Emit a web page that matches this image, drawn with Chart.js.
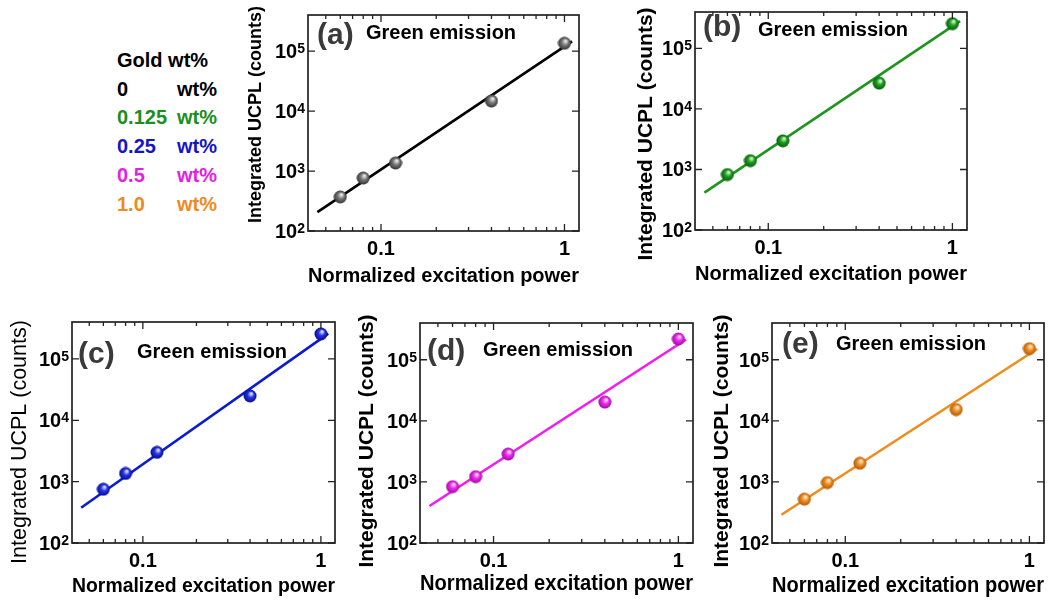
<!DOCTYPE html>
<html>
<head>
<meta charset="utf-8">
<script src="https://cdn.jsdelivr.net/npm/chart.js@4.4.1/dist/chart.umd.min.js"></script>
<style>
  body { margin: 0; background: #fff; }
  #page { position: relative; width: 1052px; height: 604px; overflow: hidden; background: #fff; }
  #page canvas { position: absolute; }
  #legend { position: absolute; left: 117px; top: 46px; font: bold 20px "Liberation Sans", Arial, sans-serif; line-height: 28.7px; }
  #legend .num { display: inline-block; width: 60px; }
</style>
</head>
<body>
<div id="page">
  <div id="legend"></div>
</div>
<script>
// excitation power (normalized) for every sample
const power = [0.06, 0.08, 0.12, 0.4, 1];

// integrated UCPL counts
const countsA = [370, 765, 1360, 14700, 135000];
const countsB = [826, 1400, 2970, 26700, 257000];
const countsC = [750, 1360, 3000, 25000, 256000];
const countsD = [837, 1220, 2860, 20300, 219000];
const countsE = [522, 975, 2020, 15300, 152000];

// fitted lines, start and end points
const fitX = [0.045, 1.1];
const fitA = [207, 145000];
const fitB = [414, 283000];
const fitC = [376, 258000];
const fitD = [403, 215000];
const fitE = [290, 150000];

// axes
const xTicks = [0.05, 0.06, 0.07, 0.08, 0.09, 0.1, 0.2, 0.3, 0.4, 0.5, 0.6, 0.7, 0.8, 0.9, 1];
const xMajor = [0.1, 1];
const xMajorText = ['0.1', '1'];
const yTicks = [100, 1000, 10000, 100000];
const yTickBase = '10';
const yTickExp = ['2', '3', '4', '5'];

// legend
const goldLevels = ['0', '0.125', '0.25', '0.5', '1.0'];
const goldColors = ['#000000', '#1b8f1b', '#1414c8', '#e41ee4', '#ef8a22'];

const FONT = '"Liberation Sans", Arial, sans-serif';

const legend = document.getElementById('legend');
let html = '<div>Gold wt%</div>';
goldLevels.forEach((g, i) => {
  html += '<div style="color:' + goldColors[i] + '"><span class="num">' + g + '</span>wt%</div>';
});
legend.innerHTML = html;

function ball(c) {
  const s = 14;
  const cv = document.createElement('canvas');
  cv.width = cv.height = s;
  const g = cv.getContext('2d');
  const r = s / 2 - 0.5;
  const grad = g.createRadialGradient(s * 0.6, s * 0.32, 0.5, s / 2, s / 2, r);
  grad.addColorStop(0, c[0]);
  grad.addColorStop(0.45, c[1]);
  grad.addColorStop(1, c[2]);
  g.fillStyle = grad;
  g.beginPath();
  g.arc(s / 2, s / 2, r, 0, Math.PI * 2);
  g.fill();
  return cv;
}

const framePlugin = {
  id: 'frame',
  afterDatasetsDraw(chart, args, opts) {
    const { ctx, chartArea: a, scales: { x, y } } = chart;
    ctx.save();
    ctx.strokeStyle = '#222';
    ctx.lineWidth = 1.3;
    ctx.beginPath();
    x.ticks.forEach(t => {
      const px = x.getPixelForValue(t.value);
      const len = xMajor.includes(t.value) ? 7 : 4;
      ctx.moveTo(px, a.bottom); ctx.lineTo(px, a.bottom - len);
      ctx.moveTo(px, a.top); ctx.lineTo(px, a.top + len);
    });
    y.ticks.forEach(t => {
      const py = y.getPixelForValue(t.value);
      ctx.moveTo(a.left, py); ctx.lineTo(a.left + 7, py);
      ctx.moveTo(a.right, py); ctx.lineTo(a.right - 7, py);
    });
    ctx.stroke();
    ctx.lineWidth = 1.7;
    ctx.strokeRect(a.left, a.top, a.right - a.left, a.bottom - a.top);

    // y tick labels with raised exponent
    ctx.fillStyle = '#000';
    ctx.textAlign = 'left';
    ctx.textBaseline = 'alphabetic';
    y.ticks.forEach(t => {
      const i = yTicks.indexOf(t.value);
      if (i < 0) return;
      const py = y.getPixelForValue(t.value);
      ctx.font = 'bold 14px ' + FONT;
      const ew = ctx.measureText(yTickExp[i]).width;
      ctx.font = 'bold 20px ' + FONT;
      const bw = ctx.measureText(yTickBase).width;
      const xr = a.left - 3;
      ctx.fillText(yTickBase, xr - ew - bw, py + 7);
      ctx.font = 'bold 14px ' + FONT;
      ctx.fillText(yTickExp[i], xr - ew, py + 2);
    });

    // y title
    ctx.save();
    ctx.translate(a.left + opts.yTitle[0], a.top + opts.yTitle[1]);
    ctx.rotate(-Math.PI / 2);
    ctx.textAlign = 'center';
    ctx.textBaseline = 'middle';
    ctx.font = opts.yFont;
    ctx.fillText('Integrated UCPL (counts)', 0, 0);
    ctx.restore();

    // panel tag and caption
    ctx.textBaseline = 'middle';
    ctx.textAlign = 'left';
    ctx.fillStyle = '#3a3a3a';
    ctx.font = 'bold 30px ' + FONT;
    ctx.fillText(opts.tag, a.left + opts.tagPos[0], a.top + opts.tagPos[1]);
    ctx.fillStyle = '#000';
    ctx.font = 'bold 20px ' + FONT;
    ctx.fillText('Green emission', a.left + opts.textPos[0], a.top + opts.textPos[1]);
    ctx.restore();
  }
};

const panels = [
  { tag: '(a)', counts: countsA, fit: fitA, color: '#000000', ball: ['#f0f0f0', '#7a7a7a', '#333333'],
    L: 308, R: 579, T: 15, B: 231, yTitleX: 256, yTitleY: 114.5, ySize: 18, yWeight: 'bold',
    xTitleY: 276, xSize: 21, tagPos: [9, 21], textPos: [58, 18] },
  { tag: '(b)', counts: countsB, fit: fitB, color: '#1c961c', ball: ['#dcffdc', '#1f9f1f', '#0a5c0a'],
    L: 695, R: 967, T: 12, B: 230, yTitleX: 646, yTitleY: 134, ySize: 21, yWeight: 'bold',
    xTitleY: 275, xSize: 20.5, tagPos: [8, 16], textPos: [63, 18] },
  { tag: '(c)', counts: countsC, fit: fitC, color: '#0b1bd0', ball: ['#e4eaff', '#2234e6', '#0a0a8c'],
    L: 72, R: 335, T: 322, B: 543, yTitleX: 20, yTitleY: 442, ySize: 21.5, yWeight: 'normal',
    xTitleY: 587, xSize: 20.6, tagPos: [6, 33], textPos: [65, 30] },
  { tag: '(d)', counts: countsD, fit: fitD, color: '#f01cf0', ball: ['#ffe4ff', '#f02af0', '#9c0c9c'],
    L: 420, R: 693, T: 323, B: 543, yTitleX: 367, yTitleY: 441, ySize: 21, yWeight: 'bold',
    xTitleY: 584, xSize: 21.3, tagPos: [7, 29], textPos: [63, 27] },
  { tag: '(e)', counts: countsE, fit: fitE, color: '#f08c1e', ball: ['#fff2dc', '#f28e22', '#b05a08'],
    L: 772, R: 1044, T: 323, B: 543, yTitleX: 722, yTitleY: 441, ySize: 21, yWeight: 'bold',
    xTitleY: 586, xSize: 21.5, tagPos: [10, 22], textPos: [64, 21] }
];

const page = document.getElementById('page');

panels.forEach(p => {
  const padTop = 22, padRight = 8;
  const left = Math.round(p.yTitleX - 16);
  const top = p.T - padTop;
  const right = p.R + padRight;
  const bottom = Math.round(p.xTitleY + 0.6 * p.xSize);
  const yWidth = p.L - left;
  const xHeight = bottom - p.B;

  const cv = document.createElement('canvas');
  cv.width = right - left;
  cv.height = bottom - top;
  cv.style.left = left + 'px';
  cv.style.top = top + 'px';
  page.appendChild(cv);

  new Chart(cv.getContext('2d'), {
    type: 'scatter',
    data: {
      datasets: [
        {
          data: power.map((v, i) => ({ x: v, y: p.counts[i] })),
          pointStyle: ball(p.ball),
          pointRadius: 7,
          pointHoverRadius: 7
        },
        {
          data: fitX.map((v, i) => ({ x: v, y: p.fit[i] })),
          showLine: true,
          borderColor: p.color,
          borderWidth: 2.6,
          pointRadius: 0
        }
      ]
    },
    options: {
      responsive: false,
      animation: false,
      layout: { padding: { top: padTop, right: padRight, left: 0, bottom: 0 } },
      plugins: {
        legend: { display: false },
        tooltip: { enabled: false },
        frame: {
          tag: p.tag, tagPos: p.tagPos, textPos: p.textPos,
          yTitle: [p.yTitleX - p.L, p.yTitleY - p.T],
          yFont: p.yWeight + ' ' + p.ySize + 'px ' + FONT
        }
      },
      scales: {
        x: {
          type: 'logarithmic',
          min: 0.04,
          max: 1.2,
          afterBuildTicks: s => { s.ticks = xTicks.map(v => ({ value: v })); },
          afterFit: s => { s.height = xHeight; },
          grid: { display: false },
          border: { display: false },
          ticks: {
            autoSkip: false,
            maxRotation: 0,
            padding: -2,
            color: '#000',
            font: { family: FONT, size: 20, weight: 'bold' },
            callback: v => {
              const i = xMajor.indexOf(v);
              return i >= 0 ? xMajorText[i] : '';
            }
          },
          title: {
            display: true,
            text: 'Normalized excitation power',
            color: '#000',
            padding: 0,
            font: { family: FONT, size: p.xSize, weight: 'bold' }
          }
        },
        y: {
          type: 'logarithmic',
          min: 100,
          max: 400000,
          afterBuildTicks: s => { s.ticks = yTicks.map(v => ({ value: v })); },
          afterFit: s => { s.width = yWidth; },
          grid: { display: false },
          border: { display: false },
          ticks: { display: false }
        }
      }
    },
    plugins: [framePlugin]
  });
});
</script>
</body>
</html>
